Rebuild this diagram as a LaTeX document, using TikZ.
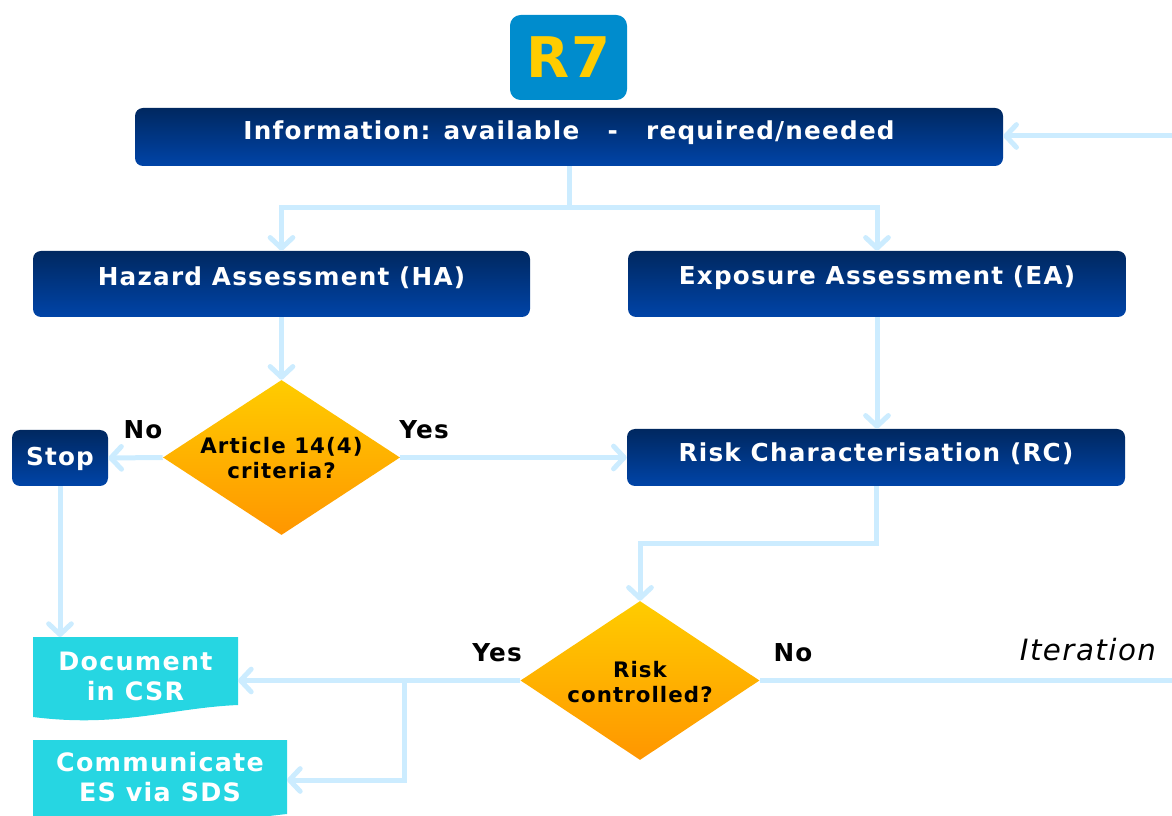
\documentclass[tikz,border=0pt]{standalone}
\usepackage{fontspec}
\setmainfont{DejaVu Sans}[LetterSpace=5]
\usetikzlibrary{shapes.geometric,arrows.meta}
\definecolor{rblue}{RGB}{0,140,205}
\definecolor{ryellow}{RGB}{255,204,0}
\definecolor{navyT}{RGB}{0,40,96}
\definecolor{navyB}{RGB}{0,68,168}
\definecolor{lineblue}{RGB}{204,236,255}
\definecolor{cyanbox}{RGB}{38,214,226}
\definecolor{diaT}{RGB}{255,204,0}
\definecolor{diaB}{RGB}{255,150,0}
\begin{document}
\begin{tikzpicture}[x=0.75pt,y=-0.75pt,
  bluebox/.style={rectangle, rounded corners=6pt, top color=navyT, bottom color=navyB, draw=none, inner sep=0pt},
  boxtext/.style={text=white, font=\bfseries\fontsize{18.5}{21}\selectfont, inner sep=0pt},
  dia/.style={diamond, inner sep=0pt, top color=diaT, bottom color=diaB, draw=none},
  diatext/.style={font=\bfseries\fontsize{16}{18.5}\selectfont, align=center, text=black},
  lbl/.style={font=\bfseries\fontsize{18.5}{21}\selectfont, text=black},
  cyantext/.style={font=\bfseries\fontsize{19}{22.5}\selectfont, text=white, align=center, inner sep=0pt},
  conn/.style={draw=lineblue, line width=3.75pt},
  arr/.style={conn, -{Straight Barb[length=8pt,width=17pt,round]}}
]
\useasboundingbox (0,0) rectangle (1172,816);

% R7 badge
\node[rectangle, rounded corners=8pt, fill=rblue, minimum width=87.75pt, minimum height=63.75pt,
  text=ryellow, font=\bfseries\fontsize{42}{44}\selectfont] (r7) at (568.5,57.5) {R7};

% blue boxes
\node[bluebox, minimum width=651pt, minimum height=43.5pt] (info) at (569,137) {};
\node[boxtext] (infot) at (569,133) {Information: available\hspace{1.15em}-\hspace{1.15em}required/needed};
\node[bluebox, minimum width=372.75pt, minimum height=49.5pt] (ha) at (281.5,284) {};
\node[boxtext] (hat) at (281.5,278) {Hazard Assessment (HA)};
\node[bluebox, minimum width=373.5pt, minimum height=49.5pt] (ea) at (877,284) {};
\node[boxtext] (eat) at (877,278) {Exposure Assessment (EA)};
\node[bluebox, minimum width=72pt, minimum height=42pt] (stop) at (60,458) {};
\node[boxtext] (stopt) at (60,459) {Stop};
\node[bluebox, minimum width=373.5pt, minimum height=42.75pt] (rc) at (876,457.5) {};
\node[boxtext] (rct) at (876,454) {Risk Characterisation (RC)};

% diamonds
\node[dia, minimum width=177.75pt, minimum height=116.25pt] (d1) at (281.5,457.5) {};
\node[diatext] (d1t) at (281.5,458) {Article 14(4)\\criteria?};
\node[dia, minimum width=179.25pt, minimum height=119.25pt] (d2) at (640,680.5) {};
\node[diatext] (d2t) at (640,682) {Risk\\controlled?};

% cyan document shapes
\fill[cyanbox] (33,637) -- (238,637) -- (238,705)
  .. controls (170,708) and (120,728) .. (33,717) -- cycle;
\node[cyantext, minimum width=153.75pt, minimum height=60pt] (doc) at (135.5,676) {Document\\in CSR};
\fill[cyanbox] (33,740) -- (287,740) -- (287,814)
  .. controls (250,818) and (240,820) .. (230,822) -- (33,822) -- cycle;
\node[cyantext, minimum width=190.5pt, minimum height=60pt] (comm) at (160,777) {Communicate\\ES via SDS};
\coordinate (commE) at (287,780);

% connectors
\coordinate (j1) at (569,208);
\draw[conn] (info.south) -- (j1);
\draw[arr] (j1) -| (ha.north);
\draw[arr] (j1) -| (ea.north);
\draw[arr] (ha.south) -- (d1.north);
\draw[arr] (ea.south) -- (ea.south |- rc.north);
\draw[arr] (d1.east) -- (rc.west);
\draw[arr] (d1.west) -- (stop.east);
\draw[arr] (stop.south) -- (stop.south |- 0,637);
\coordinate (j2) at (640,544);
\draw[arr] (rc.south) |- (j2) -- (d2.north);
\draw[arr] (d2.west) -- (238,680.5);
\coordinate (j3) at (404,680.5);
\draw[arr] (j3) |- (commE);
\coordinate (r1) at (1190,680.5);
\coordinate (r2) at (1190,136);
\draw[arr] (d2.east) -- (r1) -- (r2) -- (info.east |- r2);

% labels
\node[lbl] (no1) at (143,430) {No};
\node[lbl] (yes1) at (424,430) {Yes};
\node[lbl] (yes2) at (497,653) {Yes};
\node[lbl] (no2) at (793,653) {No};
\node[font=\itshape\fontsize{22}{24}\selectfont] (iter) at (1088,650) {Iteration};
\end{tikzpicture}
\end{document}
